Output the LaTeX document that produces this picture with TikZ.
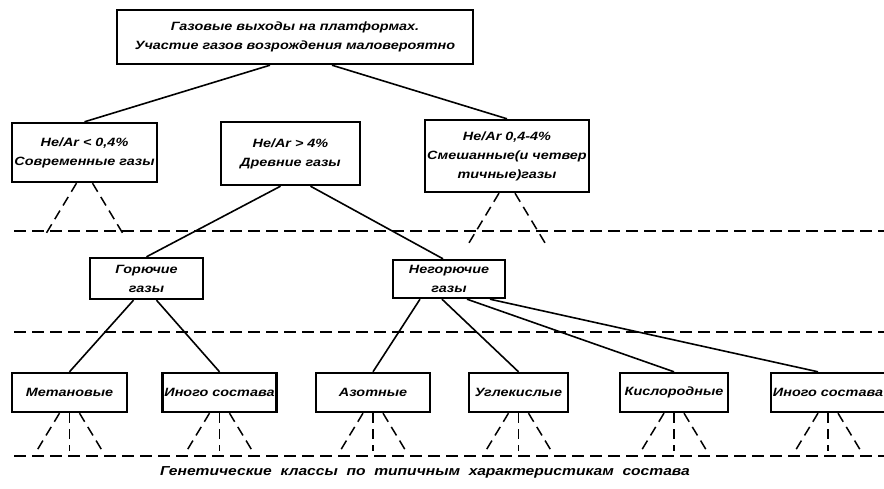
\documentclass[tikz,border=0pt]{standalone}
\usepackage{fontspec}
\setmainfont{Liberation Sans}[FakeStretch=1.2]
\usetikzlibrary{positioning}

\tikzset{
  box/.style={draw, line width=2.4pt, align=center, inner sep=2pt,
    font=\bfseries\itshape\fontsize{12}{19}\selectfont},
  link/.style={line width=1.6pt},
  hint/.style={line width=1.5pt, dash pattern=on 10pt off 6pt},
  level/.style={line width=1.5pt, dash pattern=on 12pt off 6pt}
}

\begin{document}
\begin{tikzpicture}[x=1pt,y=-1pt]
  \useasboundingbox (0,0) rectangle (884,489);
  % top and first split
  \node[box, minimum width=356pt, minimum height=54pt] (top) at (295,37)
    {Газовые выходы на платформах.\\Участие газов возрождения маловероятно};
  \node[box, minimum width=145pt, minimum height=59pt] (he1) at (84.5,152.5)
    {He/Ar < 0,4\%\\Современные газы};
  \node[box, minimum width=139pt, minimum height=63pt] (he2) at (290.5,153.5)
    {He/Ar > 4\%\\Древние газы};
  \node[box, minimum width=154pt, minimum height=72pt] (he3) at (507,156)
    {He/Ar 0,4-4\%\\Смешанные(и четвер\\тичные)газы};
  % second split
  \node[box, minimum width=113pt, minimum height=41pt] (gor) at (146.5,278.5)
    {Горючие\\газы};
  \node[box, minimum width=112pt, minimum height=38pt] (negor) at (449,279)
    {Негорючие\\газы};
  % genetic classes
  \node[box, minimum width=115pt, minimum height=39pt] (c1) at (69.5,392.5) {Метановые};
  \node[box, minimum width=113pt, minimum height=39pt] (c2) at (219.5,392.5) {Иного состава};
  \node[box, minimum width=114pt, minimum height=39pt] (c3) at (373,392.5) {Азотные};
  \node[box, minimum width=99pt, minimum height=39pt] (c4) at (518.5,392.5) {Углекислые};
  \node[box, minimum width=108pt, minimum height=39pt] (c5) at (674,392.5) {Кислородные};
  \node[box, minimum width=110pt, minimum height=39pt] (c6) at (828,392.5) {Иного состава};
  \node[font=\bfseries\itshape\fontsize{13}{15}\selectfont] (note) at (425,472)
    {Генетические\ \ классы\ \ по\ \ типичным\ \ характеристикам\ \ состава};

  \path[link]
    ([xshift=-25pt]top.south) edge (he1.north)
    ([xshift=37pt]top.south) edge (he3.north)
    ([xshift=-10pt]he2.south) edge (gor.north)
    ([xshift=20pt]he2.south) edge ([xshift=-6pt]negor.north)
    ([xshift=-13pt]gor.south) edge (c1.north)
    ([xshift=10pt]gor.south) edge (c2.north)
    ([xshift=-29pt]negor.south) edge (c3.north)
    ([xshift=-7pt]negor.south) edge (c4.north)
    ([xshift=18pt]negor.south) edge (c5.north)
    ([xshift=41pt]negor.south) edge ([xshift=-10pt]c6.north);

  % unresolved branches
  \foreach \n in {he1,he3} {
    \draw[hint] ([xshift=-8pt]\n.south) -- ++(-32,53);
    \draw[hint] ([xshift=8pt]\n.south) -- ++(32,53);
  }
  \foreach \n in {c1,c2,c3,c4,c5,c6} {
    \draw[hint] ([xshift=-10pt]\n.south) -- ++(-23,38);
    \draw[hint] (\n.south) -- ++(0,38);
    \draw[hint] ([xshift=10pt]\n.south) -- ++(23,38);
  }

  \draw[level] (14,231) -- (884,231);
  \draw[level] (14,332) -- (884,332);
  \draw[level] (14,456) -- (884,456);
\end{tikzpicture}
\end{document}
